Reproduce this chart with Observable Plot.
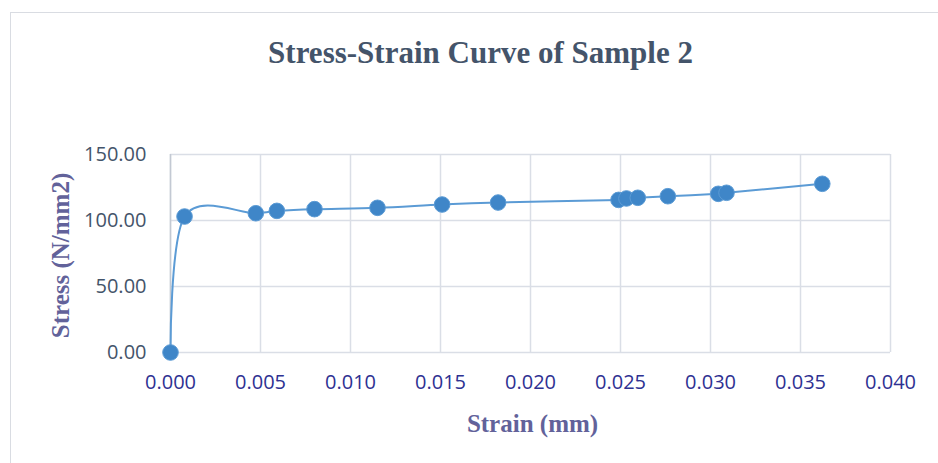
<!DOCTYPE html>
<html>
<head>
<meta charset="utf-8">
<script src="https://cdn.jsdelivr.net/npm/d3@7"></script>
<script src="https://cdn.jsdelivr.net/npm/@observablehq/plot@0.6"></script>
<style>
  html, body { margin: 0; padding: 0; background: #ffffff; }
  #wrap { position: relative; width: 938px; height: 463px; overflow: hidden; }
  #border { position: absolute; left: 10px; top: 12px; width: 940px; height: 470px;
            border-left: 1.5px solid #d9dce2; border-top: 1.5px solid #d9dce2; }
  #chart { position: absolute; left: 0; top: 0; }
</style>
</head>
<body>
<div id="wrap">
  <div id="border"></div>
  <div id="chart"></div>
</div>
<script>
const strain = [0, 0.00078, 0.00474, 0.00591, 0.0080, 0.0115, 0.01509, 0.0182, 0.02489, 0.02533, 0.02596, 0.02763, 0.03043, 0.03089, 0.03621];
const stress = [0, 103.0, 105.5, 107.3, 108.6, 109.6, 112.1, 113.6, 115.6, 116.7, 117.2, 118.4, 120.2, 121.0, 127.8];
const xTicks = [0, 0.005, 0.010, 0.015, 0.020, 0.025, 0.030, 0.035, 0.040];
const yTicks = [0, 50, 100, 150];
const titleText = "Stress-Strain Curve of Sample 2";
const xLabel = "Strain (mm)";
const yLabel = "Stress (N/mm2)";

const data = strain.map((s, i) => ({strain: s, stress: stress[i]}));

const chart = Plot.plot({
  width: 938,
  height: 463,
  marginLeft: 170,
  marginRight: 48,
  marginTop: 154,
  marginBottom: 111,
  style: {fontFamily: "'Open Sans', sans-serif", background: "transparent"},
  x: {domain: [0, 0.04]},
  y: {domain: [0, 150]},
  marks: [
    Plot.gridX(xTicks, {stroke: "#dadee6", strokeOpacity: 1, strokeWidth: 1.5}),
    Plot.gridY(yTicks, {stroke: "#dadee6", strokeOpacity: 1, strokeWidth: 1.5}),
    Plot.ruleX([0], {stroke: "#c3c9d3", strokeWidth: 1.5}),
    Plot.axisX(xTicks, {tickFormat: d3.format(".3f"), tickSize: 0, tickPadding: 22, fontSize: 20, fill: "#2e3192", label: null}),
    Plot.axisY(yTicks, {tickFormat: d3.format(".2f"), tickSize: 0, tickPadding: 24, fontSize: 20, fill: "#44546a", label: null}),
    Plot.line(data, {x: "strain", y: "stress", curve: "cardinal", stroke: "#5b9bd5", strokeWidth: 2}),
    Plot.dot(data, {x: "strain", y: "stress", r: 7.8, fill: "#3f86c8", stroke: "#5b9bd5", strokeWidth: 1}),
    Plot.text([titleText], {frameAnchor: "top", dx: -50, dy: -92, lineAnchor: "bottom", fontFamily: "'Liberation Serif', serif", fontWeight: "bold", fontSize: 31, fill: "#44546a"}),
    Plot.text([xLabel], {frameAnchor: "bottom", dx: 2, dy: 79, lineAnchor: "bottom", fontFamily: "'Liberation Serif', serif", fontWeight: "bold", fontSize: 25, fill: "#62629a"}),
    Plot.text([yLabel], {frameAnchor: "left", dx: -110, dy: 2, rotate: -90, textAnchor: "middle", lineAnchor: "middle", fontFamily: "'Liberation Serif', serif", fontWeight: "bold", fontSize: 25, fill: "#62629a"})
  ]
});
document.getElementById("chart").appendChild(chart);
</script>
</body>
</html>
